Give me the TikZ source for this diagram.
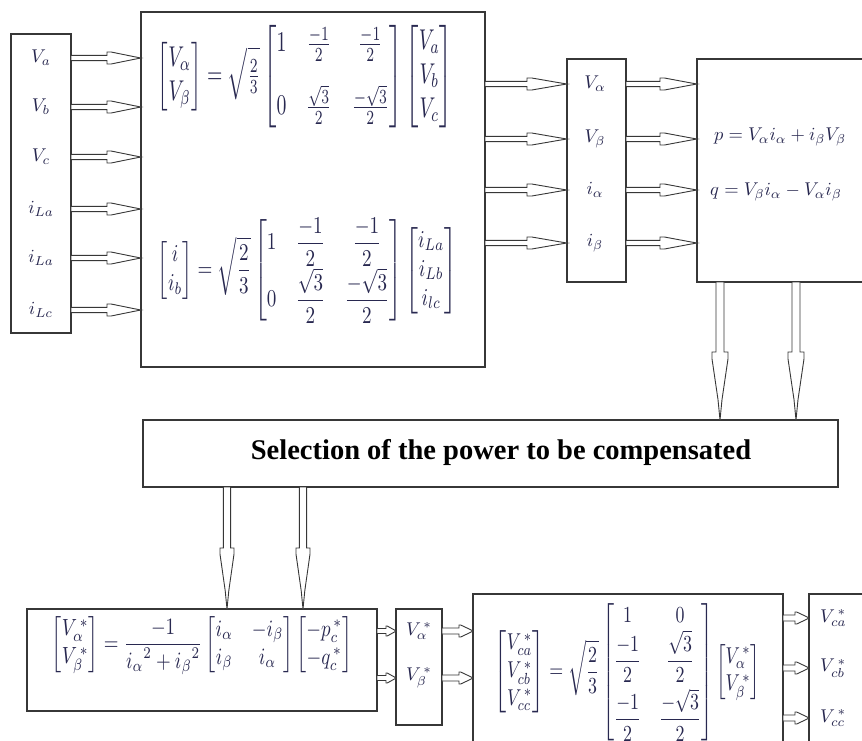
\documentclass[tikz,border=0pt]{standalone}
\usepackage{amsmath}
\usepackage{graphicx}
\usepackage{fontspec}
\setmainfont{Liberation Serif}
\usetikzlibrary{calc}
\definecolor{linec}{RGB}{55,55,55}
\definecolor{mathc}{RGB}{40,40,80}
\newcommand{\lb}[1]{\scalebox{1.85}{$#1$}}
% horizontal hollow block arrow: from, to, head length, shaft half width, head half width
\newcommand{\harr}[5]{%
 \draw[blk] let \p1=(#1), \p2=(#2) in
 (\x1,\y2+#4pt) -- (\x2-#3pt,\y2+#4pt) -- (\x2-#3pt,\y2+#5pt) -- (\x2-0.88*#3pt,\y2+#5pt)
 -- (\x2-0.2*#3pt,\y2+0.5*#4pt) -- (\x2,\y2) -- (\x2-0.2*#3pt,\y2-0.5*#4pt)
 -- (\x2-0.88*#3pt,\y2-#5pt) -- (\x2-#3pt,\y2-#5pt) -- (\x2-#3pt,\y2-#4pt) -- (\x1,\y2-#4pt) -- cycle;}
% downward hollow block arrow
\newcommand{\varr}[5]{%
 \draw[blk] let \p1=(#1), \p2=(#2) in
 (\x1+#4pt,\y1) -- (\x1+#4pt,\y2+#3pt) -- (\x1+#5pt,\y2+#3pt) -- (\x1+#5pt,\y2+0.9*#3pt)
 -- (\x1+0.5*#4pt,\y2+0.3*#3pt) -- (\x1,\y2) -- (\x1-0.5*#4pt,\y2+0.3*#3pt)
 -- (\x1-#5pt,\y2+0.9*#3pt) -- (\x1-#5pt,\y2+#3pt) -- (\x1-#4pt,\y2+#3pt) -- (\x1-#4pt,\y1) -- cycle;}
\begin{document}
\begin{tikzpicture}[x=1pt,y=-1pt,
  box/.style={draw=linec, line width=1.2pt, inner sep=0pt, outer sep=0pt, anchor=north west},
  lab/.style={text=mathc, inner sep=0pt},
  eqn/.style={text=mathc, inner sep=0pt, outer sep=0pt},
  blk/.style={draw=linec, fill=white, line width=0.9pt, line join=miter}]
\clip (0,0) rectangle (862,740);
\fill[white] (0,0) rectangle (862,740);

% boxes
\node[box, minimum width=60pt,  minimum height=299pt] (lbox)  at (11,34) {};
\node[box, minimum width=344pt, minimum height=355pt] (cbox)  at (141,12) {};
\node[box, minimum width=59pt,  minimum height=223pt] (mbox)  at (567,59) {};
\node[box, minimum width=190pt, minimum height=223pt] (pqbox) at (697,59) {};
\node[box, minimum width=695pt, minimum height=67pt]  (selbox) at (143,420) {};
\node[box, minimum width=350pt, minimum height=102pt] (ebox)  at (27,609) {};
\node[box, minimum width=46pt,  minimum height=116pt] (sbox)  at (396,609) {};
\node[box, minimum width=310pt, minimum height=170pt] (tbox)  at (473,594) {};
\node[box, minimum width=80pt,  minimum height=170pt] (obox)  at (809,594) {};

% left labels
\node[lab] (la1) at (41,58)  {\lb{V_a}};
\node[lab] (la2) at (41,107) {\lb{V_b}};
\node[lab] (la3) at (41,157) {\lb{V_c}};
\node[lab] (la4) at (41,209) {\lb{i_{La}}};
\node[lab] (la5) at (41,258) {\lb{i_{La}}};
\node[lab] (la6) at (41,310) {\lb{i_{Lc}}};

% Clarke equations
\node[eqn] (eq1) at (305.5,76.5) {\resizebox*{295pt}{103pt}{$\displaystyle
 \begin{bmatrix}V_\alpha\\ V_\beta\end{bmatrix}=\sqrt{\tfrac{2}{3}}
 \begin{bmatrix}1&\frac{-1}{2}&\frac{-1}{2}\\[8pt]0&\frac{\sqrt3}{2}&\frac{-\sqrt3}{2}\end{bmatrix}
 \begin{bmatrix}V_a\\ V_b\\ V_c\end{bmatrix}$}};
\node[eqn] (eq2) at (307.5,270.5) {\resizebox*{299pt}{105pt}{$\displaystyle
 \begin{bmatrix}i\\ i_b\end{bmatrix}=\sqrt{\frac{2}{3}}
 \begin{bmatrix}1&\dfrac{-1}{2}&\dfrac{-1}{2}\\[4pt]0&\dfrac{\sqrt3}{2}&\dfrac{-\sqrt3}{2}\end{bmatrix}
 \begin{bmatrix}i_{La}\\ i_{Lb}\\ i_{lc}\end{bmatrix}$}};

% middle labels
\node[lab] (lm1) at (595,84)  {\lb{V_\alpha}};
\node[lab] (lm2) at (595,139) {\lb{V_\beta}};
\node[lab] (lm3) at (595,190) {\lb{i_\alpha}};
\node[lab] (lm4) at (595,243) {\lb{i_\beta}};

% p q
\node[lab, anchor=west] (peq) at (714,137) {\lb{p=V_\alpha i_\alpha+i_\beta V_\beta}};
\node[lab, anchor=west] (qeq) at (710,192) {\lb{q=V_\beta i_\alpha-V_\alpha i_\beta}};

% title
\node[font=\fontsize{28.5}{30}\selectfont\bfseries, inner sep=0pt] (title) at (501,452) {Selection of the power to be compensated};

% bottom equations
\node[eqn] (eq3) at (202,645.5) {\resizebox*{300pt}{59pt}{$\displaystyle
 \begin{bmatrix}V_\alpha^{\,*}\\ V_\beta^{\,*}\end{bmatrix}=\frac{-1}{{i_\alpha}^2+{i_\beta}^2}
 \begin{bmatrix}i_\alpha&-i_\beta\\ i_\beta&i_\alpha\end{bmatrix}
 \begin{bmatrix}-p_c^{\,*}\\ -q_c^{\,*}\end{bmatrix}$}};
\node[lab] (ls1) at (419,631) {\lb{V_\alpha^{\,*}}};
\node[lab] (ls2) at (419,678) {\lb{V_\beta^{\,*}}};
\node[eqn] (eq4) at (627.5,672) {\resizebox*{265pt}{138pt}{$\displaystyle
 \begin{bmatrix}V_{ca}^{\,*}\\ V_{cb}^{\,*}\\ V_{cc}^{\,*}\end{bmatrix}=\sqrt{\frac{2}{3}}
 \begin{bmatrix}1&0\\ \dfrac{-1}{2}&\dfrac{\sqrt3}{2}\\[6pt]\dfrac{-1}{2}&\dfrac{-\sqrt3}{2}\end{bmatrix}
 \begin{bmatrix}V_\alpha^{\,*}\\ V_\beta^{\,*}\end{bmatrix}$}};
\node[lab, anchor=west] (lo1) at (820,618) {\lb{V_{ca}^{\,*}}};
\node[lab, anchor=west] (lo2) at (820,668) {\lb{V_{cb}^{\,*}}};
\node[lab, anchor=west] (lo3) at (820,718) {\lb{V_{cc}^{\,*}}};

% arrows left -> Clarke
\foreach \l in {la1,la2,la3,la4,la5,la6}{\harr{lbox.east |- \l}{cbox.west |- \l}{34}{2.6}{6}}
% Clarke -> middle
\foreach \l in {lm1,lm2,lm3,lm4}{\harr{cbox.east |- \l}{mbox.west |- \l}{40}{2.6}{6}}
% middle -> pq
\foreach \l in {lm1,lm2,lm3,lm4}{\harr{mbox.east |- \l}{pqbox.west |- \l}{37}{2.6}{6}}
% pq -> selection
\varr{[xshift=23pt]pqbox.south west}{selbox.north}{68}{4}{8}
\varr{[xshift=99pt]pqbox.south west}{selbox.north}{68}{4}{8}
% selection -> bottom equation
\varr{[xshift=84pt]selbox.south west}{ebox.north}{61}{3.6}{7}
\varr{[xshift=160pt]selbox.south west}{ebox.north}{61}{3.6}{7}
% bottom row
\foreach \l in {ls1,ls2}{\harr{ebox.east |- \l}{sbox.west |- \l}{10}{2.5}{5}}
\foreach \l in {ls1,ls2}{\harr{sbox.east |- \l}{tbox.west |- \l}{14}{3}{6}}
\foreach \l in {lo1,lo2,lo3}{\harr{tbox.east |- \l}{obox.west |- \l}{14}{3}{6}}
\end{tikzpicture}
\end{document}
